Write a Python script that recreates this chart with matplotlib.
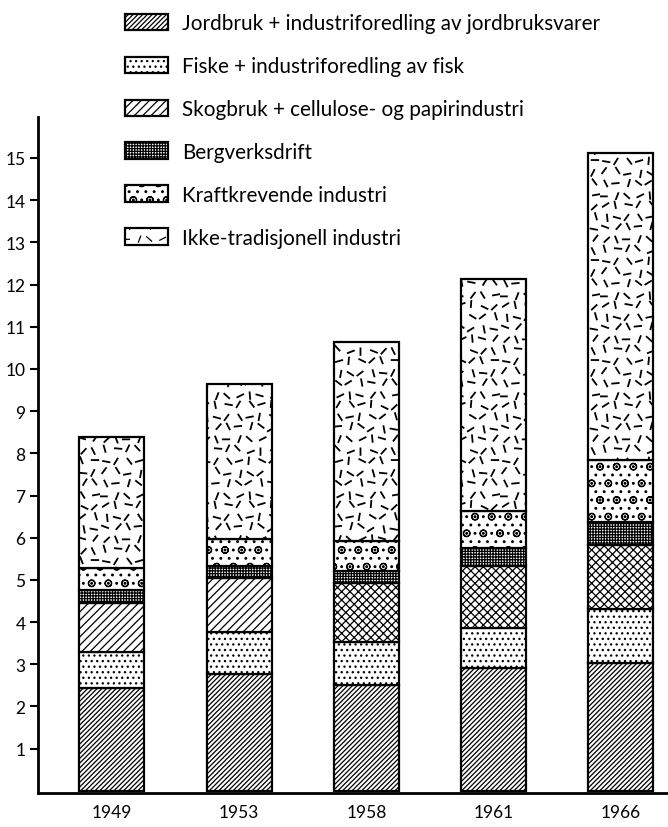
import matplotlib
matplotlib.use("Agg")
import matplotlib.pyplot as plt
import matplotlib.hatch as mhatch
from matplotlib.path import Path
import numpy as np

years = ["1949", "1953", "1958", "1961", "1966"]
categories = [
    "Jordbruk + industriforedling av jordbruksvarer",
    "Fiske + industriforedling av fisk",
    "Skogbruk + cellulose- og papirindustri",
    "Bergverksdrift",
    "Kraftkrevende industri",
    "Ikke-tradisjonell industri",
]
jordbruk = [2.43, 2.76, 2.50, 2.91, 3.03]
fiske = [0.86, 1.00, 1.02, 0.95, 1.28]
skogbruk = [1.16, 1.28, 1.40, 1.46, 1.52]
bergverk = [0.31, 0.28, 0.30, 0.43, 0.54]
kraft = [0.52, 0.64, 0.71, 0.89, 1.46]
ikke = [3.10, 3.69, 4.71, 5.49, 7.29]
series = [jordbruk, fiske, skogbruk, bergverk, kraft, ikke]
y_ticks = list(range(1, 16))


# --- texture: scattered short dashes (replaces the '*' hatch) ---------------
class ScatteredDashes(mhatch.HatchPatternBase):
    """Short dashes at varying angles on a fixed (deterministic) grid."""
    grid = 9
    length = 0.065

    def __init__(self, hatch, density):
        self.on = hatch.count('*') > 0
        self.num_vertices = (self.grid * self.grid * 2) if self.on else 0

    def set_vertices_and_codes(self, vertices, codes):
        g = self.grid
        phi = 0.6180339887
        k = 0
        for i in range(g):
            for j in range(g):
                n = i * g + j
                cx = (j + 0.5 + 0.35 * (((n * phi) % 1.0) - 0.5)) / g
                cy = (i + 0.5 + 0.35 * (((n * phi * 1.7) % 1.0) - 0.5)) / g
                ang = np.pi * ((n * 0.3819660113 + i * 0.21) % 1.0)
                dx = 0.5 * self.length * np.cos(ang)
                dy = 0.5 * self.length * np.sin(ang)
                vertices[k] = (cx - dx, cy - dy)
                vertices[k + 1] = (cx + dx, cy + dy)
                codes[k] = Path.MOVETO
                codes[k + 1] = Path.LINETO
                k += 2


mhatch._hatch_types = [t for t in mhatch._hatch_types
                       if t is not mhatch.Stars] + [ScatteredDashes]

plt.rcParams['font.family'] = ['Lato', 'DejaVu Sans']
plt.rcParams['hatch.linewidth'] = 0.9

hatches = ['///////', '...', '////', '++++++', 'o..', '*']
# Skogbruk is drawn cross-hatched in the later years
skog_hatch_per_bar = ['////', '////', 'xxxx', 'xxxx', 'xxxx']

fig = plt.figure(figsize=(6.68, 8.28), dpi=100)
ax = fig.add_axes([38/668, 1-794/828, 1-38/668, (794-118)/828])

x = np.arange(len(years))
width = 0.51
bottom = np.zeros(len(years))
handles = []
for i, (vals, h) in enumerate(zip(series, hatches)):
    bars = ax.bar(x, vals, width, bottom=bottom, color='white', edgecolor='black',
                  linewidth=1.6, hatch=h, label=categories[i])
    if i == 2:
        for b, hh in zip(bars, skog_hatch_per_bar):
            b.set_hatch(hh)
    if i == 5:
        for b in bars:
            if hasattr(b, 'set_hatch_linewidth'):
                b.set_hatch_linewidth(1.3)
    handles.append(bars)
    bottom += np.array(vals)

ax.set_xlim(-0.58, 4.37)
ax.set_ylim(-0.05, 15.97)
ax.set_yticks(y_ticks)
ax.set_yticklabels([str(t) for t in y_ticks], fontsize=12.5)
ax.set_xticks(x)
ax.set_xticklabels(years, fontsize=12.5)
ax.tick_params(axis='x', length=0, pad=8)
ax.tick_params(axis='y', length=6, width=1.5, direction='out', pad=3)
for s in ['top', 'right']:
    ax.spines[s].set_visible(False)
for s in ['left', 'bottom']:
    ax.spines[s].set_linewidth(2)

leg = fig.legend(handles=handles, labels=categories, loc='upper left',
                 bbox_to_anchor=(125/668, 1-14/828), frameon=False, fontsize=14.9,
                 handlelength=2.1, handleheight=0.85, labelspacing=1.11,
                 handletextpad=0.65, borderpad=0, borderaxespad=0)

fig.savefig("out.png", dpi=100)
